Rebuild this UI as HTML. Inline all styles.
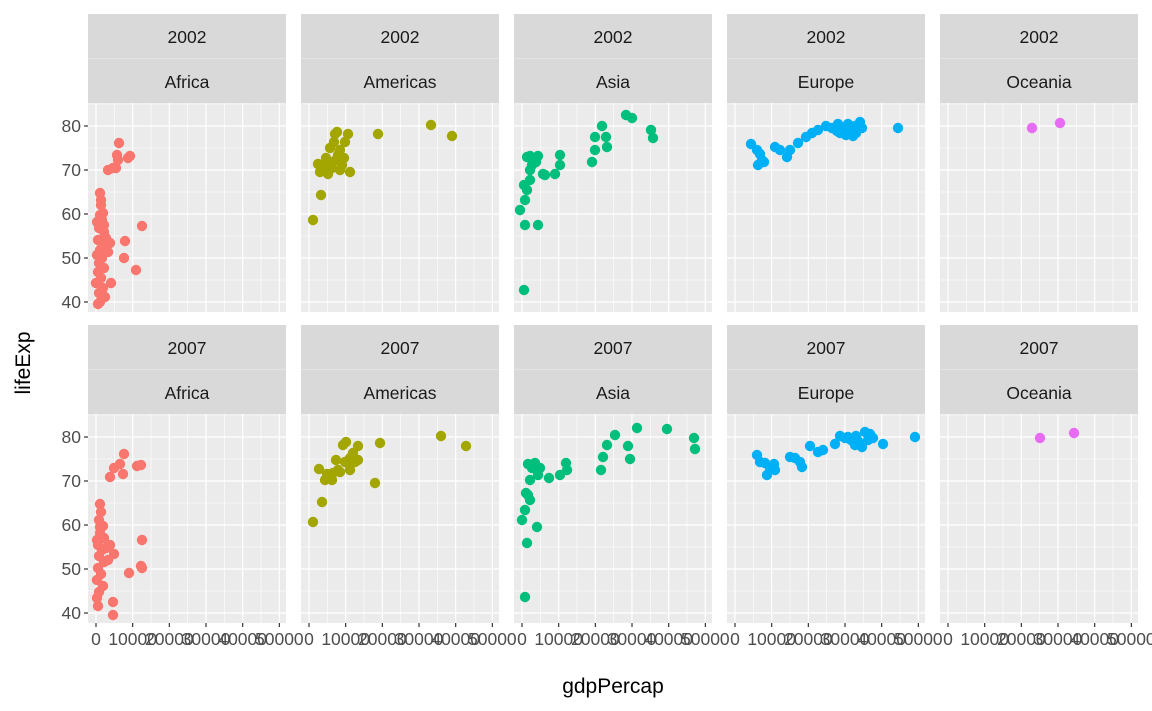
<!DOCTYPE html>
<html><head><meta charset="utf-8"><style>
html,body{margin:0;padding:0;background:#fff;}
svg{display:block;font-family:"Liberation Sans",Arial,sans-serif;}
</style></head><body>
<svg id="s" width="1152" height="711" xmlns="http://www.w3.org/2000/svg"></svg>
<script>
const S=document.getElementById('s');let h='';
const cols=[88,301,514,727,940],W=198;
const rows=[{st:14,pt:103,pb:312},{st:325,pt:414,pb:623}];
const conts=['Africa','Americas','Asia','Europe','Oceania'],years=['2002','2007'];
const yv=(top,v)=>top+23+(80-v)*4.4;
rows.forEach((r,ri)=>{
 cols.forEach((x,ci)=>{
  h+=`<rect x="${x}" y="${r.st}" width="${W}" height="89" fill="#D9D9D9"/>`;
  h+=`<line x1="${x}" x2="${x+W}" y1="${r.st+44.5}" y2="${r.st+44.5}" stroke="#fff" stroke-width="0.6" opacity="0.6"/>`;
  h+=`<text x="${x+W/2}" y="${r.st+29}" font-size="17.5" text-anchor="middle" fill="#1A1A1A">${years[ri]}</text>`;
  h+=`<text x="${x+W/2}" y="${r.st+74}" font-size="17.5" text-anchor="middle" fill="#1A1A1A">${conts[ci]}</text>`;
  h+=`<rect x="${x}" y="${r.pt}" width="${W}" height="${r.pb-r.pt}" fill="#EBEBEB"/>`;
  for(let v=35;v<=85;v+=5){const y=yv(r.pt,v);if(y<r.pt||y>r.pb)continue;
   h+=`<line x1="${x}" x2="${x+W}" y1="${y}" y2="${y}" stroke="#fff" stroke-width="${v%10?0.6:1.2}"/>`;}
  for(let k=0;k<=10;k++){const gx=x+8+k*18.33;if(gx>x+W)continue;
   h+=`<line x1="${gx}" x2="${gx}" y1="${r.pt}" y2="${r.pb}" stroke="#fff" stroke-width="${k%2?0.6:1.2}"/>`;}
  if(ci==0){for(let v=40;v<=80;v+=10){const y=yv(r.pt,v);
   h+=`<line x1="${x-4}" x2="${x}" y1="${y}" y2="${y}" stroke="#333" stroke-width="1.2"/>`;
   h+=`<text x="${x-7}" y="${y+6}" font-size="17.5" text-anchor="end" fill="#4D4D4D">${v}</text>`;}}
  if(ri==1){for(let k=0;k<=5;k++){const gx=x+8+k*36.67;
   h+=`<line x1="${gx}" x2="${gx}" y1="${r.pb}" y2="${r.pb+4}" stroke="#333" stroke-width="1.2"/>`;
   h+=`<text x="${gx}" y="${r.pb+22}" font-size="17.5" text-anchor="middle" fill="#4D4D4D">${k*10000}</text>`;}}
 });
});
const P={
'#F8766D':[[119,143],[117,155],[118,160],[113,168],[108,170],[116,168],[128,158],[130,156],[100,193],[101,200],[101,205],[103,213],[102,220],[99,228],[104,232],[98,240],[103,245],[100,250],[106,244],[97,255],[102,258],[99,263],[104,268],[98,272],[101,278],[96,283],[103,288],[99,293],[106,238],[108,252],[110,243],[100,215],[97,222],[142,226],[125,241],[124,258],[111,283],[136,270],[105,297],[100,302],[98,304],[104,225],
[124,454],[120,464],[114,468],[110,477],[123,474],[137,466],[141,465],[142,540],[141,566],[129,573],[142,568],[114,554],[113,602],[113,615],[98,606],[97,598],[110,545],[100,504],[101,512],[99,520],[103,526],[100,533],[104,538],[98,545],[102,550],[99,556],[104,562],[98,568],[101,574],[97,580],[103,586],[99,592],[106,548],[108,560],[100,527],[97,540]],
'#A3A500':[[313,220],[321,195],[320,172],[350,172],[378,134],[431,125],[452,136],[335,134],[337,132],[348,134],[318,164],[322,166],[325,170],[328,174],[332,168],[336,160],[340,150],[330,148],[334,142],[338,155],[342,165],[345,142],[330,162],[326,158],[340,170],[344,158],
[313,522],[322,502],[319,469],[325,480],[330,476],[338,470],[343,445],[346,442],[350,458],[353,453],[358,446],[355,462],[349,464],[340,472],[333,473],[327,474],[336,460],[345,462],[358,460],[380,443],[375,483],[441,436],[466,446],[350,470],[332,480]],
'#00BF7D':[[524,290],[525,225],[538,225],[520,210],[525,200],[527,190],[530,180],[532,165],[527,157],[530,156],[538,156],[536,162],[545,175],[543,174],[560,165],[555,174],[560,155],[592,162],[595,137],[595,150],[602,126],[606,137],[607,147],[626,115],[632,118],[651,130],[653,138],[524,185],[530,170],
[525,597],[527,543],[537,527],[522,520],[525,510],[530,500],[528,495],[532,468],[528,464],[535,463],[540,468],[538,475],[549,478],[560,475],[567,470],[566,463],[601,470],[603,457],[607,445],[615,435],[628,446],[630,459],[637,428],[667,429],[694,438],[695,449],[526,493],[530,480]],
'#00B0F6':[[751,144],[757,150],[760,154],[762,160],[758,165],[764,162],[775,147],[780,150],[787,157],[790,150],[798,143],[806,137],[812,133],[818,130],[826,126],[832,128],[838,124],[840,128],[845,128],[848,124],[850,130],[853,136],[856,133],[860,122],[862,128],[846,135],[837,131],[898,128],[840,133],[855,126],
[757,455],[760,462],[765,463],[767,475],[770,468],[774,464],[775,470],[790,457],[795,458],[800,462],[802,467],[810,446],[818,452],[823,450],[835,444],[840,436],[845,438],[848,437],[851,440],[855,445],[858,441],[860,444],[865,432],[870,434],[873,438],[862,447],[883,444],[915,437],[868,440],[856,436]],
'#E76BF3':[[1032,128],[1060,123],[1040,438],[1074,433]]};
for(const c in P)P[c].forEach(p=>h+=`<circle cx="${p[0]}" cy="${p[1]}" r="5.2" fill="${c}"/>`);
h+=`<text x="613" y="693" font-size="21" text-anchor="middle" fill="#000">gdpPercap</text>`;
h+=`<text transform="translate(30,363) rotate(-90)" font-size="21" text-anchor="middle" fill="#000">lifeExp</text>`;
S.innerHTML=h;
</script>
</body></html>
